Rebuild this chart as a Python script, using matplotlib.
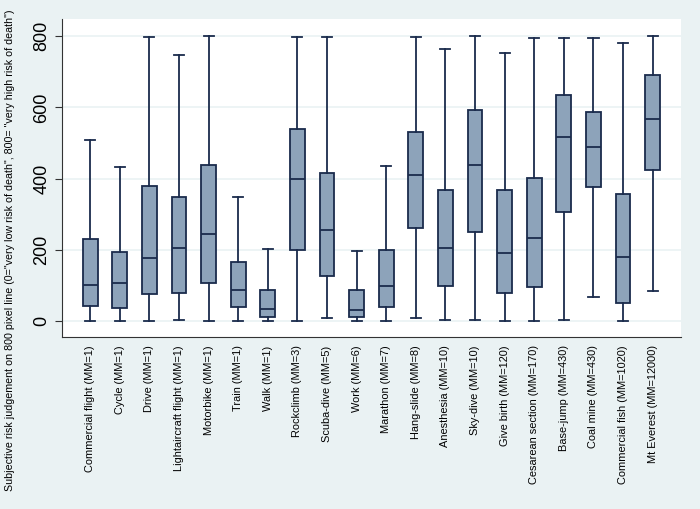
import matplotlib
matplotlib.use("Agg")
import matplotlib.pyplot as plt

plt.rcParams['font.family'] = ['Liberation Sans', 'DejaVu Sans']

labels = ["Commercial flight (MM=1)", "Cycle (MM=1)", "Drive (MM=1)",
          "Lightaircraft flight (MM=1)", "Motorbike (MM=1)", "Train (MM=1)",
          "Walk (MM=1)", "Rockclimb (MM=3)", "Scuba-dive (MM=5)", "Work (MM=6)",
          "Marathon (MM=7)", "Hang-slide (MM=8)", "Anesthesia (MM=10)",
          "Sky-dive (MM=10)", "Give birth (MM=120)", "Cesarean section (MM=170)",
          "Base-jump (MM=430)", "Coal mine (MM=430)", "Commercial fish (MM=1020)",
          "Mt Everest (MM=12000)"]

whislo = [0, 0, 0, 3, 0, 0, 0, 0, 7, 0, 0, 9, 3, 3, 0, 0, 4, 66, 0, 85]
q1 = [41, 37, 76, 78, 108, 39, 10, 200, 127, 10, 39, 260, 97, 251, 78, 94, 305, 376, 51, 425]
med = [100, 108, 178, 204, 244, 88, 34, 400, 255, 32, 98, 410, 206, 437, 191, 233, 517, 490, 180, 568]
q3 = [231, 193, 379, 347, 439, 165, 88, 540, 416, 86, 198, 531, 369, 592, 367, 403, 634, 586, 356, 690]
whishi = [509, 432, 798, 747, 800, 348, 202, 797, 797, 196, 436, 798, 764, 801, 753, 795, 795, 794, 780, 800]

ylabel = ('Subjective risk judgement on 800 pixel line (0="very low risk of death", '
          '800= "very high risk of death")')

bg = '#eaf2f3'
navy = '#1a2b4c'
fill = '#8da3ba'

stats = []
for i in range(len(labels)):
    stats.append(dict(whislo=whislo[i], q1=q1[i], med=med[i], q3=q3[i],
                      whishi=whishi[i], fliers=[]))

fig = plt.figure(figsize=(7, 5.09), dpi=100, facecolor=bg)
ax = fig.add_axes([0.0886, 0.338, 0.884, 0.625])
ax.set_facecolor('white')

ax.bxp(stats, positions=range(len(labels)), widths=0.5, patch_artist=True,
       showfliers=False,
       boxprops=dict(facecolor=fill, edgecolor=navy, linewidth=1.3),
       medianprops=dict(color=navy, linewidth=1.3),
       whiskerprops=dict(color=navy, linewidth=1.3),
       capprops=dict(color=navy, linewidth=1.3),
       capwidths=0.34, zorder=3)

ax.set_xlim(-0.95, 19.95)
ax.set_ylim(-45, 849)
ax.set_yticks([0, 200, 400, 600, 800])
ax.yaxis.grid(True, color=bg, linewidth=1.2, zorder=0)
ax.set_axisbelow(True)
ax.tick_params(axis='y', labelsize=13, labelrotation=90, length=5, color='#333333')
for t in ax.get_yticklabels():
    t.set_va('center')
ax.set_xticks(range(len(labels)))
ax.set_xticklabels(labels, rotation=90, fontsize=7.9)
ax.tick_params(axis='x', length=0, pad=6)

for s in ['top', 'right']:
    ax.spines[s].set_visible(False)
for s in ['left', 'bottom']:
    ax.spines[s].set_color('#333333')

# y title sits centred on the whole figure, like the Stata export
yl = fig.text(0.014, 0.509, ylabel, rotation=90, ha='center', va='center', fontsize=7.6)
fig.canvas.draw()
h = yl.get_window_extent().height
yl.set_fontsize(7.6 * 474 / h)

fig.savefig('out.png', dpi=100, facecolor=bg)
